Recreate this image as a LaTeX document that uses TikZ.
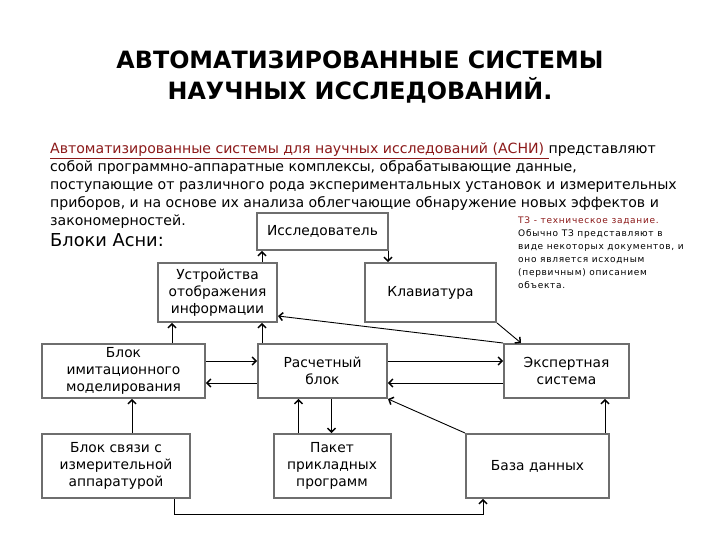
\documentclass[tikz,border=0pt]{standalone}
\usepackage{fontspec}
\setmainfont{DejaVu Sans}
\usetikzlibrary{arrows.meta}
\newfontfamily\notefont[LetterSpace=8]{DejaVu Sans}
\definecolor{dred}{RGB}{140,26,26}
\definecolor{boxgray}{RGB}{110,110,110}
\begin{document}
\begin{tikzpicture}[x=1pt,y=-1pt,
  blk/.style={draw=boxgray, line width=2pt, fill=white, align=center,
    font=\fontsize{13.8}{17}\selectfont, inner sep=0pt},
  arr/.style={-{Straight Barb[length=3.8pt,width=8pt,line width=1.5pt]}, line width=0.9pt}]
\useasboundingbox (0,0) rectangle (720,540);
\fill[white] (0,0) rectangle (720,540);

% title
\node[font=\bfseries\fontsize{23.8}{31}\selectfont, align=center] (title) at (360,77)
  {АВТОМАТИЗИРОВАННЫЕ СИСТЕМЫ\\НАУЧНЫХ ИССЛЕДОВАНИЙ.};

% paragraph
\node[anchor=north west, align=left, inner sep=0pt, font=\fontsize{14.1}{17.8}\selectfont] (para) at (50,143)
  {{\color{dred}\underline{Автоматизированные системы для научных исследований (АСНИ)\ }}представляют\\
   собой программно-аппаратные комплексы, обрабатывающие данные,\\
   поступающие от различного рода экспериментальных установок и измерительных\\
   приборов, и на основе их анализа облегчающие обнаружение новых эффектов и\\
   закономерностей.};

\node[anchor=west, inner sep=0pt, font=\fontsize{17.8}{20}\selectfont] (blocks) at (50,240) {Блоки Асни:};

% note
\node[anchor=north west, align=left, inner sep=0pt, font=\notefont\fontsize{9}{13}\selectfont] (note) at (518,217)
  {{\color{dred}ТЗ - техническое задание.}\\
   Обычно ТЗ представляют в\\
   виде некоторых документов, и\\
   оно является исходным\\
   (первичным) описанием\\
   объекта.};

% boxes
\node[blk, minimum width=131pt, minimum height=37pt] (res) at (322.5,231.5) {Исследователь};
\node[blk, minimum width=119pt, minimum height=59pt] (disp) at (217.5,292.5) {Устройства\\отображения\\информации};
\node[blk, minimum width=131pt, minimum height=59pt] (kbd) at (430.5,292.5) {Клавиатура};
\node[blk, minimum width=163pt, minimum height=54pt] (sim) at (123.5,371) {Блок\\имитационного\\моделирования};
\node[blk, minimum width=129pt, minimum height=54pt] (calc) at (322.5,371) {Расчетный\\блок};
\node[blk, minimum width=125pt, minimum height=54pt] (exp) at (566.5,371) {Экспертная\\система};
\node[blk, minimum width=148pt, minimum height=64pt] (link) at (116,466) {Блок связи с\\измерительной\\аппаратурой};
\node[blk, minimum width=117pt, minimum height=64pt] (pkg) at (332,466) {Пакет\\прикладных\\программ};
\node[blk, minimum width=143pt, minimum height=64pt] (db) at (537.5,466) {База данных};

% connectors
\draw[arr] ([xshift=6pt]res.south west |- disp.north) -- ([xshift=6pt]res.south west);
\draw[arr] ([xshift=-1pt]res.south east) -- ([xshift=-1pt]res.south east |- kbd.north);
\draw[arr] (exp.north west) -- ([yshift=7pt]disp.south east);
\draw[arr] (kbd.south east) -- ([xshift=18pt]exp.north west);

\draw[arr] ([yshift=10pt]sim.east) -- ([yshift=10pt]sim.east -| calc.west);
\draw[arr] ([yshift=-12pt]calc.west) -- ([yshift=-12pt]calc.west -| sim.east);
\draw[arr] ([yshift=10pt]calc.east) -- ([yshift=10pt]calc.east -| exp.west);
\draw[arr] ([yshift=-12pt]exp.west) -- ([yshift=-12pt]exp.west -| calc.east);

\draw[arr] ([xshift=15pt]disp.south west |- sim.north) -- ([xshift=15pt]disp.south west);
\draw[arr] ([xshift=5pt]calc.north west) -- ([xshift=5pt]calc.north west |- disp.south);

\draw[arr] ([xshift=91pt]sim.south west |- link.north) -- ([xshift=91pt]sim.south west);
\draw[arr] ([xshift=26pt]pkg.north west) -- ([xshift=26pt]pkg.north west |- calc.south);
\draw[arr] ([xshift=9pt]calc.south) -- ([xshift=9pt]calc.south |- pkg.north);
\draw[arr] (db.north west) -- (calc.south east);
\draw[arr] ([xshift=-5pt]db.north east) -- ([xshift=-5pt]db.north east |- exp.south);

\coordinate (dbb) at ([xshift=18pt]db.south west);
\draw[arr] ([xshift=-17pt]link.south east) -- ++(0,15) -| (dbb);
\end{tikzpicture}
\end{document}
